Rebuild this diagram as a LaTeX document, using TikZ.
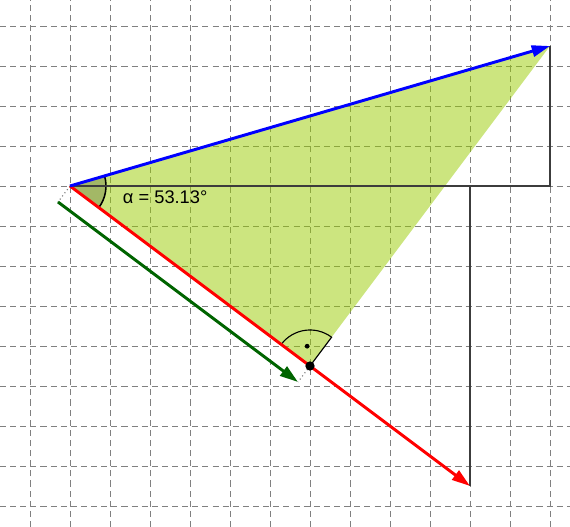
\documentclass[tikz,border=0pt]{standalone}
\usepackage{fontspec}
\setmainfont{Liberation Sans}
\usetikzlibrary{arrows.meta,calc}
\definecolor{areagreen}{RGB}{153,204,0}
\definecolor{vecgreen}{RGB}{0,100,0}
\definecolor{legcol}{RGB}{60,60,60}
\tikzset{
    gridline/.style={gray, line width=0.7pt, dash pattern=on 4.3pt off 2.9pt},
    vec/.style={line width=2.1pt, -{Triangle[length=13pt,width=8pt]}},
    leg/.style={legcol, line width=0.8pt},
    helper/.style={gray, dotted, line width=0.8pt}
}
\begin{document}
\begin{tikzpicture}
    \useasboundingbox (-1.75,-8.525) rectangle (12.5,4.65);

    % ===== points =====
    \coordinate (O) at (0,0);
    \coordinate (B) at (12,3.5);
    \coordinate (R) at (10,-7.5);
    \coordinate (P) at (6,-4.5);
    \coordinate (Bf) at (12,0);
    \coordinate (Rf) at (10,0);
    \coordinate (G1) at (-0.3,-0.4);
    \coordinate (G2) at (5.7,-4.9);

    % ===== grid =====
    \foreach \x in {-1,...,12} {
        \draw[gridline] (\x,-8.525) -- (\x,4.65);
    }
    \foreach \y in {-8,...,4} {
        \draw[gridline] (-1.75,\y) -- (12.5,\y);
    }

    % ===== triangle (area) =====
    \fill[areagreen, fill opacity=0.5] (O) -- (B) -- (P) -- cycle;

    % angle alpha
    \fill[black, fill opacity=0.2] (O) -- (16.26:0.9) arc (16.26:-36.87:0.9) -- cycle;
    \draw[line width=1.1pt] (16.26:0.9) arc (16.26:-36.87:0.9);
    \node[anchor=base west, font=\fontsize{13}{15}\selectfont] (alpha) at (1.2,-0.43) {α = 53.13°};

    % ===== legs =====
    \draw[leg] (O) -- (Bf) -- (B);
    \draw[leg] (Rf) -- (R);

    % right angle at P
    \draw[line width=0.8pt] (P) -- ($(P)+(143.13:0.9)$) arc (143.13:53.13:0.9) -- cycle;
    \fill ($(P)+(98.13:0.5)$) circle (1.7pt);

    % ===== helper lines =====
    \draw[helper] (O) -- (G1);
    \draw[helper] (P) -- (G2);

    % ===== vectors =====
    \draw[vec, red] (O) -- (R);
    \draw[vec, vecgreen] (G1) -- (G2);
    \draw[vec, blue] (O) -- (B);

    \fill (P) circle (3.3pt);
\end{tikzpicture}
\end{document}
